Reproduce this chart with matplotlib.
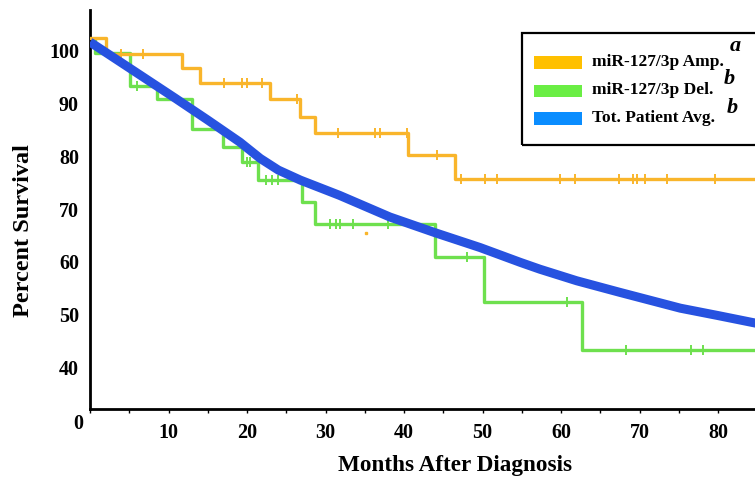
import numpy as np
import matplotlib.pyplot as plt
from matplotlib.patches import Rectangle

# Kaplan-Meier step data (months, percent survival)
amp_times = [0, 2.1, 11.7, 14.0, 22.9, 26.75, 28.7, 40.5, 46.5, 85]
amp_surv = [102.4, 99.5, 96.7, 94.0, 90.8, 87.5, 84.4, 80.3, 75.7, 75.7]
amp_censor = [4.0, 6.8, 17.1, 19.4, 20.0, 21.9, 26.4, 31.6, 36.3, 36.9, 40.4,
              44.2, 47.3, 50.3, 51.8, 59.9, 61.8, 67.4, 69.2, 69.7, 70.7, 73.5, 79.6]

del_times = [0, 0.6, 5.1, 8.5, 12.95, 17.0, 19.3, 21.4, 27.0, 28.7, 43.9, 50.2, 62.7, 85]
del_surv = [102.0, 99.6, 93.4, 90.9, 85.2, 81.8, 79.0, 75.6, 71.4, 67.2, 60.9, 52.4, 43.3, 43.3]
del_censor = [6.0, 20.0, 20.4, 22.4, 23.2, 23.9, 30.6, 31.4, 31.8, 33.5, 38.0,
              48.0, 60.8, 68.3, 76.6, 78.1]

avg_months = [0, 5, 10.8, 15, 19.1, 21.7, 24, 26.8, 31.8, 38.2, 44, 49.7, 54.8, 57.3, 62, 67.5, 75.2, 80, 85]
avg_surv = [101.7, 96.8, 91.1, 86.9, 82.7, 79.6, 77.4, 75.5, 72.6, 68.5, 65.5, 62.7, 59.9, 58.6, 56.4, 54.2, 51.2, 49.8, 48.3]

labels = ["miR-127/3p Amp.", "miR-127/3p Del.", "Tot. Patient Avg."]
marks = ["a", "b", "b"]
x_ticks = [0, 5, 10, 15, 20, 25, 30, 35, 40, 45, 50, 55, 60, 65, 70, 75, 80]
y_ticks = [40, 50, 60, 70, 80, 90, 100]

orange = "#F9B52B"
green = "#6EE04E"
blue = "#2752E0"

W, H = 755, 483
plt.rcParams['font.family'] = ['Liberation Serif', 'DejaVu Serif']
plt.rcParams['font.weight'] = 'bold'

fig = plt.figure(figsize=(W / 100, H / 100), dpi=100)
ax = fig.add_axes([90 / W, 1 - 409 / H, (W - 90) / W, (409 - 10) / H])


def level_at(times, surv, t):
    i = np.searchsorted(times, t, side='right') - 1
    return np.array(surv)[i]


ax.step(del_times, del_surv, where='post', color=green, lw=2.4, zorder=2)
ax.plot(del_censor, level_at(del_times, del_surv, del_censor), ls='none',
        marker='|', ms=7, mew=1.4, color=green, zorder=2)
ax.step(amp_times, amp_surv, where='post', color=orange, lw=2.4, zorder=3)
ax.plot(amp_censor, level_at(amp_times, amp_surv, amp_censor), ls='none',
        marker='|', ms=7, mew=1.4, color=orange, zorder=3)
ax.plot([35.2], [65.5], ls='none', marker='s', ms=1.5, color=orange)
ax.plot(avg_months, avg_surv, color=blue, lw=6.5, solid_capstyle='butt', zorder=4)

ax.set_xlim(0, (W - 90) / 7.85)
ax.set_ylim(100 - (409 - 51) / 5.27, 100 + 41 / 5.27)

ax.set_xticks(x_ticks)
ax.set_xticklabels([str(v) if v % 10 == 0 and v > 0 else "" for v in x_ticks])
ax.set_yticks(y_ticks)
ax.tick_params(axis='x', length=3, width=1, pad=7, labelsize=14.5)
ax.tick_params(axis='y', length=0, pad=8, labelsize=14.5)

for side in ['top', 'right']:
    ax.spines[side].set_visible(False)
for side in ['left', 'bottom']:
    ax.spines[side].set_linewidth(2)

ax.set_xlabel("Months After Diagnosis", fontsize=16.7, fontweight='bold', va='center')
ax.xaxis.set_label_coords((455 - 90) / (W - 90), -(466 - 409) / (409 - 10))
ax.set_ylabel("Percent Survival", fontsize=17.5, fontweight='bold', va='center')
ax.yaxis.set_label_coords(-(90 - 24) / (W - 90), (409 - 231) / (409 - 10))

fig.text(78 / W, 1 - 424 / H, "0", ha='center', va='center', fontsize=14.5, fontweight='bold')

# legend box drawn in figure pixels
fig.add_artist(Rectangle((522 / W, 1 - 145 / H), (W + 5 - 522) / W, 112 / H,
                         transform=fig.transFigure, fill=False, lw=1.6, ec='black'))
sw_colors = ["#FFC000", "#6AEE44", "#0A8DFF"]
sw_y = [62.5, 90.5, 118.5]
sup_pos = [(735, 46), (729, 79), (732, 108)]
for lab, mk, c, yy, (sx, sy) in zip(labels, marks, sw_colors, sw_y, sup_pos):
    fig.add_artist(Rectangle((534 / W, 1 - (yy + 6) / H), 48 / W, 12 / H,
                             transform=fig.transFigure, color=c, lw=0))
    fig.text(592 / W, 1 - (yy - 1) / H, lab, ha='left', va='center', fontsize=12.5, fontweight='bold')
    fig.text(sx / W, 1 - sy / H, mk, ha='center', va='center', fontsize=16,
             fontweight='bold', fontstyle='italic')

fig.savefig("out.png", dpi=100)
